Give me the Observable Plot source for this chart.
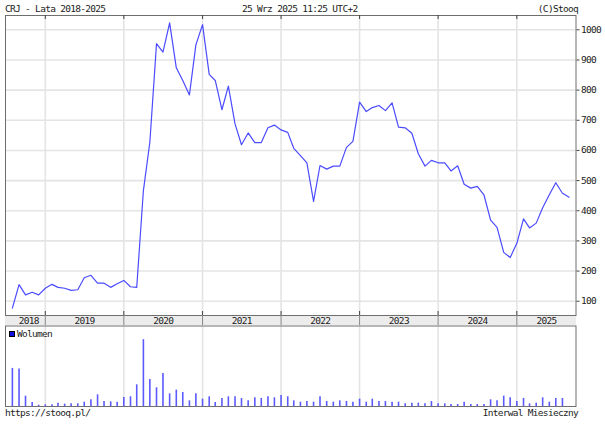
<!DOCTYPE html>
<html><head><meta charset="utf-8">
<script src="https://cdn.jsdelivr.net/npm/d3@7"></script>
<script src="https://cdn.jsdelivr.net/npm/@observablehq/plot@0.6"></script>
<style>
body{margin:0;background:#fff;}
#wrap{position:relative;width:605px;height:428px;background:#fff;overflow:hidden;font-family:"DejaVu Sans Mono",monospace;font-size:9.5px;letter-spacing:-0.7px;color:#222;}
.t{position:absolute;line-height:10px;white-space:pre;}
.abs{position:absolute;left:0;}
</style></head><body>
<div id="wrap">
 <div class="t" style="left:5px;top:4px">CRJ - Lata 2018-2025</div>
 <div class="t" style="left:242px;top:4px">25 Wrz 2025 11:25 UTC+2</div>
 <div class="t" style="right:27px;top:4px">(C)Stooq</div>
 <div style="position:absolute;left:5px;top:315px;width:571px;height:10px;background:#ececec"></div>
 <div id="main" class="abs" style="top:0"></div>
 <div id="vol" class="abs" style="top:325px"></div>
 <div class="t" style="left:9px;top:329px"><span style="display:inline-block;width:4px;height:4px;background:#1010e0;border:0.5px solid #000;margin-right:2px;vertical-align:0px"></span>Wolumen</div>
 <div class="t" style="left:5px;top:408px">https://stooq.pl/</div>
 <div class="t" style="right:27px;top:408px">Interwal Miesieczny</div>
</div>
<script>
// ---- data (monthly, first month Aug 2018) ----
const firstMonth = "2018-08-01";
const closes = [
  77, 155, 121, 130, 121,
  143, 156, 146, 143, 136, 138, 178, 186, 160, 160, 146, 158,
  169, 148, 146, 467, 627, 954, 926, 1023, 874, 832, 784, 950,
  1017, 852, 832, 735, 813, 688, 619, 658, 626, 626, 675, 684,
  668, 660, 607, 583, 559, 431, 550, 538, 548, 548, 610, 630,
  760, 729, 742, 749, 732, 758, 677, 675, 657, 589, 548, 567,
  559, 559, 532, 549, 488, 475, 481, 453, 369, 345, 262, 245,
  292, 373, 343, 359, 410, 453, 493, 458, 445
];
const volumes = [
  114, 112, 31, 12, 4,
  5, 5, 10, 7, 8, 8, 13, 20, 35, 15, 14, 13,
  27, 29, 65, 200, 81, 56, 99, 38, 49, 42, 17, 38,
  22, 29, 12, 24, 29, 29, 24, 17, 26, 24, 29, 26,
  33, 29, 17, 13, 15, 13, 29, 15, 13, 17, 15, 13,
  22, 13, 22, 15, 15, 13, 13, 8, 10, 10, 8, 15,
  8, 8, 6, 6, 13, 6, 6, 6, 20, 17, 31, 26,
  15, 24, 8, 10, 26, 13, 24, 24
];
const yTicks = [100, 200, 300, 400, 500, 600, 700, 800, 900, 1000];
const yearLabels = ["2018", "2019", "2020", "2021", "2022", "2023", "2024", "2025"];
const yearStartStrings = ["2019-01-01", "2020-01-01", "2021-01-01", "2022-01-01", "2023-01-01", "2024-01-01", "2025-01-01"];
const xDomainStrings = ["2018-06-30", "2025-10-03"];
const yDomain = [52.7, 1047.4];
const volDomain = [0, 241];

// ---- build tables ----
const start = new Date(firstMonth);
const months = d3.utcMonth.range(start, d3.utcMonth.offset(start, closes.length));
const priceData = closes.map((v, i) => ({date: months[i], close: v}));
const volData = volumes.map((v, i) => ({date: months[i], vol: v}));
const yearDates = yearStartStrings.map(s => new Date(s));
const xDomain = xDomainStrings.map(s => new Date(s));
const labelData = yearLabels.map(y => {
  const a = new Date(`${y}-01-01`), b = new Date(`${+y + 1}-01-01`);
  const lo = Math.max(+a, +months[0]), hi = Math.min(+b, +xDomain[1]);
  return {date: new Date((lo + hi) / 2), year: y};
});

const font = {fontFamily: "DejaVu Sans Mono", fontSize: "9.5px", letterSpacing: "-0.7px", color: "#222", background: "transparent", overflow: "visible"};
const GRID = "#e4e4e4", FRAME = "#6e6e6e", LINE = "#4b4bff";

const main = Plot.plot({
  width: 605, height: 326,
  marginTop: 15, marginBottom: 11, marginLeft: 5, marginRight: 29.5,
  style: font,
  x: {type: "utc", domain: xDomain, axis: null},
  y: {domain: yDomain},
  marks: [
    Plot.ruleY(yTicks, {stroke: GRID, strokeWidth: 1.6}),
    Plot.ruleX(yearDates, {stroke: GRID, strokeWidth: 1.6}),
    Plot.line(priceData, {x: "date", y: "close", stroke: LINE, strokeWidth: 1.2}),
    Plot.frame({stroke: FRAME}),
    Plot.ruleX(yearDates, {stroke: "#444", insetTop: 296}),
    Plot.ruleX(yearDates, {stroke: "#444", insetBottom: 296}),
    Plot.ruleX(yearDates, {stroke: "#888", insetTop: 300, insetBottom: -10}),
    Plot.axisY(yTicks, {anchor: "right", tickSize: 3, tickPadding: 2, tickFormat: d => String(d), label: null, stroke: "#444", fill: "#222", fontSize: 9.5}),
    Plot.text(labelData, {x: "date", text: "year", frameAnchor: "bottom", lineAnchor: "top", dy: 2, fill: "#222", fontSize: 9.5})
  ]
});
document.getElementById("main").appendChild(main);

const vol = Plot.plot({
  width: 605, height: 82,
  marginTop: 0.5, marginBottom: 1, marginLeft: 5, marginRight: 29.5,
  style: font,
  x: {type: "utc", domain: xDomain, axis: null},
  y: {domain: volDomain, axis: null},
  marks: [
    Plot.ruleX(yearDates, {stroke: GRID, strokeWidth: 1.6}),
    Plot.ruleX(volData, {x: "date", y: "vol", stroke: "#5a5aff", strokeWidth: 1.6}),
    Plot.frame({stroke: FRAME})
  ]
});
document.getElementById("vol").appendChild(vol);
</script>
</body></html>
